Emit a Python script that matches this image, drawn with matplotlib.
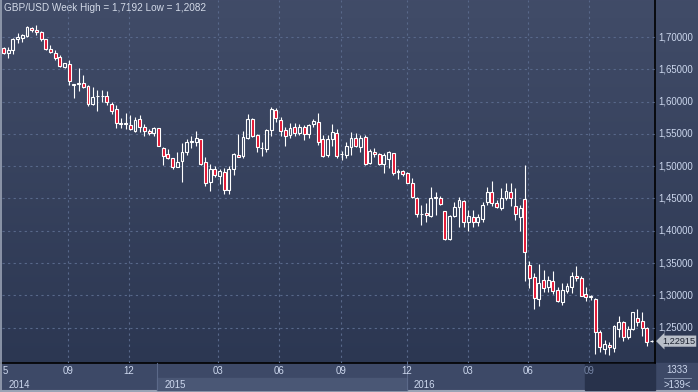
import numpy as np
import matplotlib
matplotlib.use("Agg")
import matplotlib.pyplot as plt
from matplotlib.patches import Rectangle
from matplotlib.transforms import blended_transform_factory

plt.rcParams["font.family"] = ["Liberation Sans", "DejaVu Sans"]

# weekly GBP/USD candles
opens = [1.6825, 1.6748, 1.6799, 1.6965, 1.6990, 1.7020, 1.7144, 1.7110, 1.7070, 1.6965,
         1.6814, 1.6760, 1.6686, 1.6530, 1.6577, 1.6255, 1.6280, 1.6283, 1.6246, 1.5958,
         1.6080, 1.6085, 1.6087, 1.5958, 1.5885, 1.5660, 1.5655, 1.5638, 1.5550, 1.5730,
         1.5610, 1.5550, 1.5510, 1.5587, 1.5277, 1.5184, 1.5122, 1.4993, 1.5086, 1.5225,
         1.5380, 1.5380, 1.5416, 1.5060, 1.4750, 1.4952, 1.4853, 1.4915, 1.4632, 1.4956,
         1.5168, 1.5153, 1.5432, 1.5730, 1.5483, 1.5277, 1.5262, 1.5560, 1.5870, 1.5715,
         1.5560, 1.5483, 1.5600, 1.5510, 1.5600, 1.5494, 1.5648, 1.5680, 1.5421, 1.5173,
         1.5421, 1.5510, 1.5188, 1.5173, 1.5303, 1.5432, 1.5303, 1.5457, 1.5045, 1.5224,
         1.5184, 1.5034, 1.5111, 1.5200, 1.4912, 1.4926, 1.4890, 1.4735, 1.4503, 1.4260,
         1.4271, 1.4230, 1.4505, 1.4503, 1.4306, 1.3869, 1.4229, 1.4373, 1.4461, 1.4131,
         1.4209, 1.4131, 1.4183, 1.4450, 1.4605, 1.4435, 1.4348, 1.4503, 1.4605, 1.4384,
         1.4218, 1.4488, 1.3470, 1.3280, 1.2940, 1.3238, 1.3135, 1.3223, 1.3084, 1.2900,
         1.3075, 1.3125, 1.3300, 1.3265, 1.3017, 1.2975, 1.2939, 1.2438, 1.2165, 1.2227,
         1.2191, 1.2475, 1.2583, 1.2351, 1.2480, 1.2645, 1.2603, 1.2491, 1.2289]
highs = [1.6845, 1.6850, 1.6980, 1.7057, 1.7040, 1.7170, 1.7160, 1.7192, 1.7090, 1.6975,
         1.6880, 1.6800, 1.6720, 1.6600, 1.6640, 1.6270, 1.6515, 1.6410, 1.6257, 1.6230,
         1.6180, 1.6180, 1.6170, 1.5990, 1.5950, 1.5740, 1.5820, 1.5790, 1.5766, 1.5790,
         1.5650, 1.5580, 1.5600, 1.5590, 1.5300, 1.5260, 1.5127, 1.5215, 1.5354, 1.5416,
         1.5470, 1.5545, 1.5420, 1.5150, 1.5030, 1.5000, 1.4956, 1.4977, 1.5000, 1.5200,
         1.5494, 1.5545, 1.5803, 1.5740, 1.5494, 1.5380, 1.5576, 1.5921, 1.5906, 1.5766,
         1.5610, 1.5664, 1.5664, 1.5660, 1.5638, 1.5660, 1.5730, 1.5819, 1.5483, 1.5483,
         1.5648, 1.5576, 1.5235, 1.5380, 1.5524, 1.5508, 1.5490, 1.5490, 1.5265, 1.5276,
         1.5200, 1.5200, 1.5240, 1.5210, 1.4952, 1.4940, 1.4915, 1.4813, 1.4528, 1.4400,
         1.4426, 1.4683, 1.4605, 1.4539, 1.4306, 1.4245, 1.4450, 1.4528, 1.4477, 1.4322,
         1.4322, 1.4260, 1.4450, 1.4683, 1.4771, 1.4477, 1.4658, 1.4745, 1.4735, 1.4658,
         1.4400, 1.5018, 1.3532, 1.3351, 1.3486, 1.3400, 1.3300, 1.3382, 1.3125, 1.3197,
         1.3197, 1.3367, 1.3455, 1.3300, 1.3135, 1.3000, 1.2965, 1.2464, 1.2309, 1.2283,
         1.2542, 1.2680, 1.2608, 1.2526, 1.2748, 1.2785, 1.2738, 1.2516, 1.2305]
lows = [1.6735, 1.6680, 1.6730, 1.6900, 1.6928, 1.7005, 1.7070, 1.7030, 1.6940, 1.6800,
        1.6760, 1.6650, 1.6540, 1.6520, 1.6257, 1.6050, 1.6164, 1.6215, 1.5937, 1.5947,
        1.5860, 1.5990, 1.5947, 1.5810, 1.5587, 1.5587, 1.5576, 1.5556, 1.5534, 1.5530,
        1.5472, 1.5490, 1.5470, 1.5307, 1.5018, 1.5107, 1.4957, 1.4983, 1.4760, 1.5180,
        1.5277, 1.5317, 1.5018, 1.4698, 1.4620, 1.4830, 1.4720, 1.4570, 1.4565, 1.4864,
        1.5146, 1.5122, 1.5420, 1.5447, 1.5224, 1.5162, 1.5215, 1.5472, 1.5680, 1.5470,
        1.5317, 1.5432, 1.5473, 1.5480, 1.5405, 1.5442, 1.5603, 1.5328, 1.5146, 1.5147,
        1.5317, 1.5122, 1.5096, 1.5122, 1.5173, 1.5290, 1.5215, 1.5018, 1.5035, 1.5147,
        1.5018, 1.4895, 1.4967, 1.4864, 1.4797, 1.4850, 1.4735, 1.4503, 1.4218, 1.4090,
        1.4140, 1.4218, 1.4245, 1.4400, 1.3857, 1.3857, 1.4209, 1.4054, 1.4054, 1.4000,
        1.4054, 1.4074, 1.4140, 1.4400, 1.4389, 1.4348, 1.4322, 1.4477, 1.4389, 1.4167,
        1.3997, 1.3227, 1.3120, 1.2790, 1.2840, 1.3050, 1.3057, 1.3020, 1.2893, 1.2851,
        1.3042, 1.3042, 1.3227, 1.2985, 1.2918, 1.2928, 1.2093, 1.2129, 1.2093, 1.2082,
        1.2129, 1.2360, 1.2299, 1.2320, 1.2464, 1.2531, 1.2376, 1.2217, 1.2275]
closes = [1.6748, 1.6799, 1.6969, 1.6995, 1.7030, 1.7160, 1.7104, 1.7080, 1.6970, 1.6810,
          1.6770, 1.6680, 1.6556, 1.6590, 1.6320, 1.6265, 1.6290, 1.6230, 1.5958, 1.6076,
          1.6090, 1.6092, 1.5990, 1.5860, 1.5673, 1.5670, 1.5665, 1.5571, 1.5715, 1.5610,
          1.5550, 1.5510, 1.5587, 1.5317, 1.5158, 1.5132, 1.4983, 1.5060, 1.5225, 1.5380,
          1.5390, 1.5432, 1.5030, 1.4735, 1.4956, 1.4864, 1.4926, 1.4632, 1.4952, 1.5184,
          1.5146, 1.5447, 1.5730, 1.5472, 1.5290, 1.5285, 1.5560, 1.5885, 1.5742, 1.5550,
          1.5472, 1.5587, 1.5510, 1.5610, 1.5494, 1.5638, 1.5700, 1.5380, 1.5163, 1.5421,
          1.5524, 1.5163, 1.5193, 1.5317, 1.5441, 1.5317, 1.5432, 1.5030, 1.5235, 1.5184,
          1.5030, 1.5173, 1.5224, 1.4890, 1.4918, 1.4875, 1.4745, 1.4528, 1.4260, 1.4265,
          1.4240, 1.4503, 1.4521, 1.4415, 1.3869, 1.4229, 1.4373, 1.4477, 1.4131, 1.4229,
          1.4131, 1.4209, 1.4400, 1.4605, 1.4426, 1.4363, 1.4503, 1.4621, 1.4512, 1.4255,
          1.4348, 1.3676, 1.3265, 1.2955, 1.3187, 1.3110, 1.3238, 1.3068, 1.2918, 1.3084,
          1.3145, 1.3300, 1.3265, 1.2995, 1.2970, 1.2985, 1.2429, 1.2196, 1.2247, 1.2196,
          1.2526, 1.2593, 1.2351, 1.2480, 1.2738, 1.2583, 1.2491, 1.2283, 1.22915]

price_ticks = [1.25, 1.30, 1.35, 1.40, 1.45, 1.50, 1.55, 1.60, 1.65, 1.70]
month_pos = [13.7, 26.7, 45.7, 58.7, 71.9, 85.9, 98.9, 111.7, 124.7]
month_labels = ["09", "12", "03", "06", "09", "12", "03", "06", "09"]
year_labels = ["2014", "2015", "2016"]
year_starts = [-0.32, 32.7, 85.9]
open_week_start = 123.8  # current, unfinished period at the right
bar_total = "1333"
bars_shown = ">139<"

W, H = 698, 392
PLOT_R, PLOT_B = 655, 363
down_col = "#e3112f"
text_col = "#cdd8ee"
grid_col = "#58688a"
fs = 6.9

fig = plt.figure(figsize=(W / 100, H / 100), dpi=100)

# pixel-space background layer
bg = fig.add_axes([0, 0, 1, 1])
bg.set_xlim(0, W)
bg.set_ylim(H, 0)
bg.set_axis_off()
top = np.array([0.255, 0.298, 0.408])
bot = np.array([0.172, 0.216, 0.322])
t = np.linspace(0, 1, 256)[:, None, None]
bg.imshow(top + (bot - top) * t, extent=[0, W, PLOT_B, 0], aspect="auto", zorder=0)
bg.add_patch(Rectangle((0, PLOT_B), W, H - PLOT_B, color="#3d4967", zorder=1))

ax = fig.add_axes([2 / W, (H - PLOT_B) / H, (PLOT_R - 2) / W, PLOT_B / H])
ax.patch.set_alpha(0)
for s in ax.spines.values():
    s.set_visible(False)
ax.set_xticks([])
ax.set_yticks([])
ax.set_xlim(-0.32, 138.73)
ax.set_ylim(1.1953, 1.7573)

for p in price_ticks:
    ax.axhline(p, color=grid_col, lw=0.8, dashes=(2, 3), zorder=1)
for m in month_pos:
    ax.axvline(m, color=grid_col, lw=0.8, dashes=(2, 3), zorder=1)

bw = 0.62
for i, (o, h, l, c) in enumerate(zip(opens, highs, lows, closes)):
    hi_b, lo_b = max(o, c), min(o, c)
    ax.vlines(i, hi_b, h, color="white", lw=0.8, zorder=2)
    ax.vlines(i, l, lo_b, color="white", lw=0.8, zorder=2)
    face = "none" if c >= o else down_col
    ax.add_patch(Rectangle((i - bw / 2, lo_b), bw, hi_b - lo_b, facecolor=face,
                           edgecolor="white", lw=0.8, zorder=3))

# bottom time axis
tx = blended_transform_factory(ax.transData, bg.transData)
y_row = 378
ax.add_patch(Rectangle((year_starts[1], y_row), year_starts[2] - year_starts[1], 390 - y_row,
                       transform=tx, color="#4a5775", clip_on=False, zorder=1))
ax.add_patch(Rectangle((open_week_start, PLOT_B + 1), 138.73 - open_week_start, 390 - PLOT_B - 1,
                       transform=tx, color="#28324b", clip_on=False, zorder=1))
for ys in year_starts[1:]:
    ax.plot([ys, ys], [PLOT_B, 390], transform=tx, color="#5b6989", lw=0.8, clip_on=False)
for m, lab in zip(month_pos, month_labels):
    col = "#7584a4" if m > open_week_start else text_col
    ax.text(m, 371, lab, transform=tx, ha="center", va="center", fontsize=fs, color=col,
            clip_on=False)
for ys, lab in zip(year_starts, year_labels):
    ax.text(ys + 1.5, 384.5, lab, transform=tx, ha="left", va="center", fontsize=fs,
            color=text_col, clip_on=False)
bg.text(5, 371, "5", ha="center", va="center", fontsize=fs, color=text_col)

# right price scale
ty = blended_transform_factory(bg.transData, ax.transData)
for p in price_ticks:
    bg.text(658, p, f"{p:.5f}".replace(".", ","), transform=ty, ha="left", va="center",
            fontsize=fs, color=text_col)
last = closes[-1]
bg.text(662, last, f"{last:.5f}".replace(".", ","), transform=ty, ha="left", va="center",
        fontsize=6.6, color="#1d2331",
        bbox=dict(boxstyle="larrow,pad=0.12", fc="#b9bfc9", ec="none"))
bg.text(677, 370, bar_total, ha="center", va="center", fontsize=fs, color=text_col)
bg.plot([664, 691], [378, 378], color="#8c9ab4", lw=0.6)
bg.text(677, 385, bars_shown, ha="center", va="center", fontsize=fs, color=text_col)

# frame lines
bg.plot([0, PLOT_R], [PLOT_B, PLOT_B], color="black", lw=1.2, zorder=5)
bg.plot([PLOT_R, PLOT_R], [0, H], color="black", lw=1.2, zorder=5)
bg.plot([0.7, 0.7], [0, H], color="#9aa3b5", lw=1.2, zorder=5)
bg.plot([0, W], [391, 391], color="#9aa3b5", lw=1.5, zorder=5)

title = f"GBP/USD Week High = {max(highs):.4f} Low = {min(lows):.4f}".replace(".", ",")
bg.text(4, 8, title, ha="left", va="center", fontsize=7.2, color="#d3dae8")

fig.savefig("out.png", dpi=100)
